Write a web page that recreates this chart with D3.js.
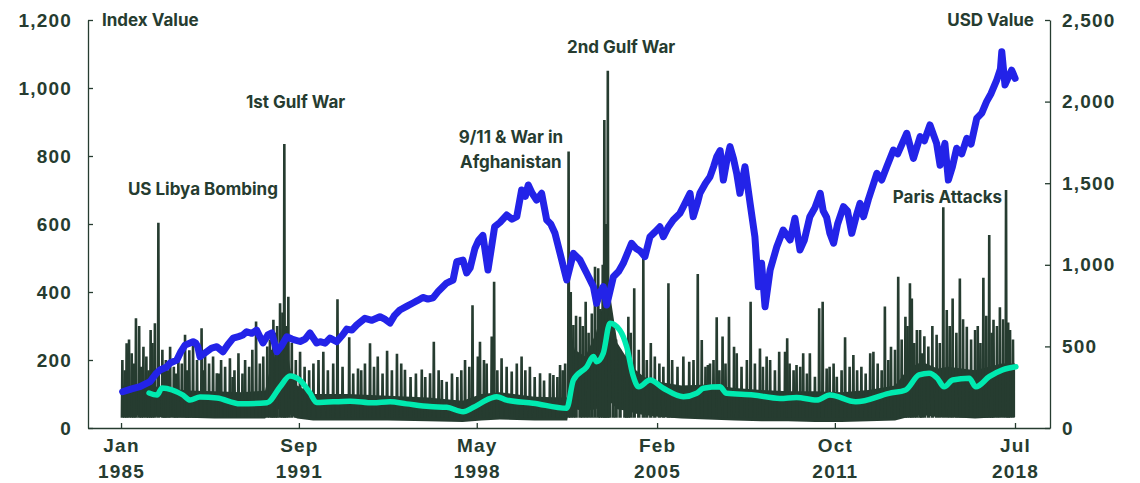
<!DOCTYPE html>
<html>
<head>
<meta charset="utf-8">
<script src="https://cdn.jsdelivr.net/npm/d3@7"></script>
<style>
  body { margin: 0; background: #fff; }
  svg { display: block; font-family: Inter, "DejaVu Sans", sans-serif; }
  .axis text { font-size: 19px; font-weight: 700; fill: #263c30; letter-spacing: 1.2px; }
  .axis path, .axis line { stroke: #263c30; stroke-width: 1.3; }
  .lbl { font-size: 17px; font-weight: 700; fill: #263c30; }
</style>
</head>
<body>
<div id="chart"></div>
<script>
// axis ticks
const xTickDates = ["1985-01-01", "1991-09-01", "1998-05-01", "2005-02-01", "2011-10-01", "2018-07-01"];
const leftTicks = [0, 200, 400, 600, 800, 1000, 1200];
const rightTicks = [0, 500, 1000, 1500, 2000, 2500];

// MSCI World (USD Value, right axis), decimal years
const msciYears = [1985.06, 1985.40, 1985.71, 1986.09, 1986.30, 1986.46, 1986.70, 1986.84, 1987.09, 1987.25,
  1987.40, 1987.70, 1987.80, 1987.88, 1987.96, 1988.21, 1988.40, 1988.59, 1988.82, 1989.00,
  1989.20, 1989.40, 1989.57, 1989.71, 1989.90, 1990.08, 1990.32, 1990.50, 1990.65, 1990.84,
  1991.00, 1991.21, 1991.40, 1991.71, 1991.90, 1992.08, 1992.33, 1992.46, 1992.65, 1992.83,
  1993.08, 1993.30, 1993.46, 1993.65, 1993.83, 1994.14, 1994.40, 1994.70, 1994.90, 1995.08,
  1995.25, 1995.45, 1995.70, 1995.94, 1996.10, 1996.31, 1996.50, 1996.69, 1996.90, 1997.20,
  1997.44, 1997.58, 1997.81, 1997.95, 1998.08, 1998.26, 1998.40, 1998.56, 1998.75, 1999.00,
  1999.20, 1999.45, 1999.65, 1999.83, 2000.01, 2000.15, 2000.26, 2000.40, 2000.57, 2000.76,
  2000.95, 2001.10, 2001.26, 2001.45, 2001.70, 2001.95, 2002.20, 2002.45, 2002.70, 2002.82,
  2002.95, 2003.07, 2003.20, 2003.45, 2003.65, 2003.82, 2004.13, 2004.30, 2004.45, 2004.63,
  2004.82, 2005.00, 2005.19, 2005.32, 2005.50, 2005.69, 2005.94, 2006.07, 2006.32, 2006.44,
  2006.60, 2006.69, 2006.90, 2007.07, 2007.20, 2007.32, 2007.45, 2007.57, 2007.70, 2007.82,
  2007.95, 2008.07, 2008.19, 2008.38, 2008.57, 2008.75, 2008.88, 2009.00, 2009.13, 2009.32,
  2009.57, 2009.81, 2010.07, 2010.25, 2010.44, 2010.60, 2010.81, 2011.00, 2011.20, 2011.31,
  2011.44, 2011.56, 2011.70, 2011.85, 2012.07, 2012.22, 2012.38, 2012.55, 2012.69, 2012.82,
  2013.00, 2013.32, 2013.50, 2013.69, 2013.94, 2014.10, 2014.44, 2014.69, 2014.94, 2015.10,
  2015.31, 2015.56, 2015.69, 2015.87, 2016.00, 2016.15, 2016.31, 2016.50, 2016.69, 2016.85,
  2017.06, 2017.25, 2017.43, 2017.60, 2017.81, 2017.95, 2018.00, 2018.12, 2018.25, 2018.37, 2018.50];
const msciValues = [222, 240, 253, 284, 330, 355, 372, 398, 416, 470,
  508, 529, 520, 498, 437, 467, 490, 498, 467, 510,
  551, 560, 570, 590, 580, 600, 521, 570, 582, 467,
  500, 559, 545, 530, 545, 582, 521, 529, 520, 551,
  529, 570, 606, 600, 631, 672, 660, 682, 665, 643,
  690, 723, 745, 766, 780, 800, 790, 797, 840, 888,
  907, 1019, 1029, 950, 980, 1100, 1150, 1180, 968, 1233,
  1260, 1305, 1280, 1295, 1458, 1420, 1489, 1440, 1397, 1438,
  1274, 1250, 1193, 1070, 907, 1070, 1029, 948, 866, 764,
  830, 866, 754, 927, 960, 1009, 1132, 1100, 1085, 1050,
  1172, 1200, 1233, 1172, 1230, 1274, 1315, 1356, 1438, 1295,
  1380, 1438, 1500, 1540, 1600, 1662, 1700, 1519, 1640, 1724,
  1650, 1560, 1438, 1601, 1377, 1172, 866, 1009, 743, 968,
  1111, 1213, 1152, 1285, 1091, 1150, 1295, 1350, 1438, 1330,
  1290, 1193, 1132, 1250, 1356, 1330, 1193, 1300, 1377, 1295,
  1400, 1560, 1520, 1601, 1703, 1680, 1806, 1652, 1785, 1760,
  1857, 1744, 1610, 1744, 1519, 1600, 1714, 1680, 1775, 1740,
  1897, 1930, 2000, 2050, 2132, 2200, 2306, 2102, 2150, 2193, 2143];

// moving average of the risk index (left axis)
const avgYears = [1986.05, 1986.35, 1986.54, 1987.32, 1987.59, 1987.96, 1988.60, 1989.46, 1990.47, 1990.96,
  1991.33, 1991.71, 1992.08, 1992.33, 1993.58, 1994.44, 1995.08, 1995.70, 1996.57, 1997.20,
  1997.82, 1998.19, 1998.83, 1999.08, 1999.45, 2000.44, 2001.70, 2001.95, 2002.45, 2002.70,
  2002.82, 2003.07, 2003.32, 2003.69, 2003.95, 2004.18, 2004.40, 2004.82, 2005.32, 2006.07,
  2006.57, 2006.82, 2007.44, 2007.69, 2008.69, 2009.69, 2010.31, 2011.06, 2011.56, 2012.53,
  2013.78, 2014.40, 2014.90, 2015.28, 2015.59, 2015.84, 2016.16, 2016.78, 2017.03, 2017.53,
  2018.03, 2018.53];
const avgValues = [103, 97, 118, 97, 82, 91, 88, 71, 74, 121,
  153, 140, 103, 75, 79, 74, 77, 71, 63, 61,
  48, 60, 87, 92, 82, 73, 58, 141, 180, 210,
  195, 220, 308, 288, 238, 156, 121, 141, 117, 92,
  102, 117, 121, 102, 97, 87, 90, 82, 97, 77,
  102, 112, 156, 161, 146, 121, 141, 146, 121, 151,
  171, 180];

// dense part of the daily risk index: low and high envelope (left axis)
const bandYears = [1985.00, 1986.00, 1986.50, 1987.50, 1988.50, 1989.50, 1990.40, 1990.60, 1990.90, 1991.15,
  1991.35, 1991.60, 1992.20, 1993.50, 1995.00, 1996.50, 1997.80, 1998.50, 1999.20, 2000.50,
  2001.60, 2001.72, 2001.80, 2002.00, 2002.40, 2002.80, 2003.10, 2003.35, 2003.60, 2004.00,
  2004.30, 2004.60, 2005.20, 2006.00, 2007.00, 2008.00, 2009.00, 2010.00, 2011.00, 2012.00,
  2013.00, 2014.00, 2014.50, 2015.00, 2015.60, 2016.00, 2017.00, 2018.00, 2018.50];
const bandLow = [40, 35, 32, 30, 28, 28, 28, 45, 55, 55,
  38, 28, 22, 22, 22, 20, 18, 22, 25, 22,
  22, 22, 65, 55, 50, 55, 75, 75, 55, 50,
  42, 38, 32, 28, 25, 22, 20, 20, 18, 18,
  20, 22, 32, 38, 32, 32, 28, 32, 32];
const bandHigh = [125, 125, 120, 110, 108, 105, 110, 180, 240, 280,
  170, 125, 100, 100, 95, 90, 80, 100, 105, 92,
  90, 90, 300, 230, 210, 280, 380, 380, 250, 200,
  170, 150, 135, 125, 128, 118, 112, 108, 108, 105,
  112, 125, 175, 195, 175, 180, 170, 190, 190];

// major spikes of the daily risk index (left axis)
const spikeYears = [1985.21, 1985.40, 1985.56, 1985.84, 1986.11, 1986.27, 1986.40, 1986.84, 1987.40, 1987.56,
  1988.02, 1988.59, 1989.08, 1989.65, 1990.06, 1990.33, 1990.71, 1990.96, 1991.12, 1991.27,
  1991.71, 1992.21, 1992.58, 1993.11, 1993.55, 1993.88, 1994.14, 1994.33, 1994.62, 1994.97,
  1995.34, 1995.64, 1996.27, 1996.58, 1996.72, 1997.02, 1997.20, 1997.89, 1998.17, 1998.37,
  1998.45, 1998.70, 1998.89, 1998.98, 1999.26, 1999.64, 1999.83, 2000.01, 2000.32, 2000.70,
  2001.07, 2001.20, 2001.45, 2001.64, 2001.77, 2001.95, 2002.20, 2002.41, 2002.64, 2002.76,
  2002.88, 2003.11, 2003.24, 2003.44, 2003.88, 2004.01, 2004.23, 2004.57, 2005.17, 2005.32,
  2005.51, 2006.07, 2006.29, 2006.61, 2006.76, 2006.99, 2007.07, 2007.32, 2007.54, 2007.78,
  2007.97, 2008.07, 2008.59, 2008.94, 2009.19, 2009.32, 2009.66, 2009.88, 2009.96, 2010.31,
  2010.56, 2010.81, 2011.00, 2011.16, 2011.29, 2011.44, 2011.82, 2012.13, 2012.44, 2012.74,
  2013.07, 2013.19, 2013.62, 2013.85, 2014.12, 2014.39, 2014.56, 2014.63, 2014.82, 2014.94,
  2015.00, 2015.56, 2015.81, 2015.94, 2016.16, 2016.43, 2016.69, 2017.00, 2017.31, 2017.53,
  2017.69, 2017.93, 2018.16, 2018.31];
const spikeValues = [249, 220, 323, 239, 288, 308, 604, 239, 274, 229,
  293, 161, 205, 200, 313, 210, 318, 367, 835, 386,
  224, 190, 224, 379, 267, 175, 190, 249, 210, 227,
  218, 171, 172, 161, 254, 141, 136, 200, 361, 210,
  254, 190, 269, 430, 205, 166, 190, 210, 180, 161,
  161, 156, 185, 190, 813, 303, 327, 371, 337, 474,
  470, 906, 1051, 200, 151, 327, 411, 499, 190, 180,
  426, 210, 195, 453, 259, 185, 190, 326, 269, 327,
  239, 220, 371, 234, 210, 200, 224, 224, 264, 185,
  220, 220, 151, 352, 371, 175, 151, 267, 215, 180,
  220, 224, 357, 239, 445, 327, 426, 381, 288, 288,
  220, 274, 649, 347, 381, 440, 298, 288, 442, 568,
  318, 355, 700, 288];

// smaller spikes that make up the ragged top of the index
const minorYears = [1985.05, 1985.14, 1985.30, 1985.48, 1985.68, 1985.76, 1985.95, 1986.03, 1986.18, 1986.55,
  1986.62, 1986.68, 1986.76, 1986.98, 1987.06, 1987.15, 1987.28, 1987.48, 1987.70, 1987.85,
  1988.10, 1988.15, 1988.30, 1988.45, 1988.67, 1988.75, 1988.90, 1989.18, 1989.25, 1989.40,
  1989.55, 1989.80, 1989.92, 1990.20, 1990.48, 1990.58, 1990.66, 1990.80, 1990.85, 1991.05,
  1991.18, 1991.40, 1991.55, 1991.88, 1992.05, 1992.40, 1992.75, 1992.95, 1993.30, 1993.70,
  1994.00, 1994.48, 1994.80, 1995.15, 1995.50, 1995.85, 1996.05, 1996.40, 1996.90, 1997.40,
  1997.60, 1997.75, 1998.05, 1998.60, 1999.10, 1999.45, 2000.15, 2000.50, 2000.85, 2001.35,
  2001.55, 2001.85, 2002.05, 2002.30, 2002.52, 2002.96, 2003.05, 2003.17, 2003.30, 2003.55,
  2003.70, 2003.95, 2004.10, 2004.40, 2004.70, 2004.85, 2005.00, 2005.65, 2005.85, 2006.45,
  2006.90, 2007.20, 2007.42, 2007.65, 2008.25, 2008.45, 2008.75, 2009.05, 2009.50, 2010.05,
  2010.20, 2010.45, 2010.70, 2011.55, 2011.70, 2012.00, 2012.30, 2012.58, 2012.90, 2013.35,
  2013.50, 2013.75, 2014.00, 2014.25, 2014.47, 2014.72, 2015.10, 2015.25, 2015.40, 2015.68,
  2016.05, 2016.30, 2016.55, 2016.85, 2017.10, 2017.20, 2017.42, 2017.62, 2017.82, 2018.05,
  2018.24, 2018.42];
const minorValues = [200, 170, 260, 190, 300, 180, 210, 170, 250, 230,
  180, 200, 170, 180, 160, 210, 190, 170, 250, 200,
  170, 230, 190, 210, 160, 200, 180, 150, 170, 220,
  160, 180, 230, 190, 240, 260, 230, 280, 300, 340,
  300, 250, 200, 180, 170, 200, 170, 190, 180, 160,
  170, 180, 160, 170, 190, 150, 160, 150, 170, 160,
  150, 170, 180, 200, 170, 180, 170, 150, 140, 150,
  170, 400, 330, 300, 280, 350, 480, 600, 420, 260,
  230, 250, 280, 230, 200, 250, 210, 200, 180, 200,
  180, 200, 170, 190, 180, 200, 190, 180, 170, 190,
  170, 180, 160, 180, 190, 170, 180, 170, 160, 190,
  170, 200, 230, 260, 300, 250, 270, 240, 300, 250,
  300, 280, 320, 260, 300, 250, 330, 280, 300, 320,
  310, 260];

const annotations = [
  { lines: ["US Libya Bombing"], year: 1990.88, value: 685, anchor: "end" },
  { lines: ["1st Gulf War"], year: 1989.68, value: 941, anchor: "start" },
  { lines: ["9/11 & War in", "Afghanistan"], year: 1999.61, value: 838, anchor: "middle" },
  { lines: ["2nd Gulf War"], year: 2001.71, value: 1103, anchor: "start" },
  { lines: ["Paris Attacks"], year: 2018.01, value: 662, anchor: "end" }
];

function yearToDate(y) {
  const yr = Math.floor(y);
  const start = new Date(yr, 0, 1);
  const end = new Date(yr + 1, 0, 1);
  return new Date(+start + (y - yr) * (end - start));
}

const width = 1140;
const height = 483;
const margin = { top: 20, right: 90, bottom: 55, left: 88 };
const ink = "#263c30";

const svg = d3.select("#chart").append("svg")
  .attr("width", width)
  .attr("height", height);

const x = d3.scaleTime()
  .domain([new Date(1983, 9, 7), new Date(2019, 9, 23)])
  .range([margin.left, width - margin.right]);
const yL = d3.scaleLinear().domain([0, 1200]).range([height - margin.bottom, margin.top]);
const yR = d3.scaleLinear().domain([0, 2500]).range([height - margin.bottom, margin.top]);

// risk index: dense band + spikes
const band = bandYears.map((t, i) => ({ date: yearToDate(t), low: bandLow[i], high: bandHigh[i] }));
svg.append("path")
  .datum(band)
  .attr("fill", ink)
  .attr("d", d3.area()
    .x(d => x(d.date))
    .y0(d => yL(d.low))
    .y1(d => yL(d.high)));

const day = 24 * 3600 * 1000;
const spikeLine = d3.line().x(d => x(d[0])).y(d => yL(d[1]));
const spikes = spikeYears.map((t, i) => ({ date: yearToDate(t), value: spikeValues[i] }))
  .concat(minorYears.map((t, i) => ({ date: yearToDate(t), value: minorValues[i] })));

svg.append("g")
  .selectAll("path")
  .data(spikes)
  .enter()
  .append("path")
  .attr("fill", "none")
  .attr("stroke", ink)
  .attr("stroke-width", 2.6)
  .attr("d", d => spikeLine([
    [new Date(+d.date - 6 * day), 30],
    [d.date, d.value],
    [new Date(+d.date + 6 * day), 30]
  ]));

// moving average
const avg = avgYears.map((t, i) => ({ date: yearToDate(t), value: avgValues[i] }));
svg.append("path")
  .datum(avg)
  .attr("fill", "none")
  .attr("stroke", "#00eab0")
  .attr("stroke-width", 5.5)
  .attr("stroke-linecap", "round")
  .attr("stroke-linejoin", "round")
  .attr("d", d3.line().x(d => x(d.date)).y(d => yL(d.value)).curve(d3.curveMonotoneX));

// MSCI World in USD
const msci = msciYears.map((t, i) => ({ date: yearToDate(t), value: msciValues[i] }));
svg.append("path")
  .datum(msci)
  .attr("fill", "none")
  .attr("stroke", "#2323e8")
  .attr("stroke-width", 7)
  .attr("stroke-linecap", "round")
  .attr("stroke-linejoin", "round")
  .attr("d", d3.line().x(d => x(d.date)).y(d => yR(d.value)));

// axes
svg.append("g")
  .attr("class", "axis")
  .attr("transform", `translate(${margin.left},0)`)
  .call(d3.axisLeft(yL).tickValues(leftTicks).tickSize(-5).tickSizeOuter(0)
    .tickPadding(16).tickFormat(d3.format(",")));

svg.append("g")
  .attr("class", "axis")
  .attr("transform", `translate(${width - margin.right},0)`)
  .call(d3.axisRight(yR).tickValues(rightTicks).tickSize(-5).tickSizeOuter(0)
    .tickPadding(12).tickFormat(d3.format(",")));

const xAxis = svg.append("g")
  .attr("class", "axis")
  .attr("transform", `translate(0,${height - margin.bottom})`)
  .call(d3.axisBottom(x).tickValues(xTickDates.map(d => new Date(d + "T00:00:00")))
    .tickSize(-5).tickSizeOuter(0).tickFormat(""));

xAxis.selectAll(".tick").each(function(d) {
  const g = d3.select(this);
  g.append("text").attr("y", 24).attr("text-anchor", "middle").text(d3.timeFormat("%b")(d));
  g.append("text").attr("y", 50).attr("text-anchor", "middle").text(d3.timeFormat("%Y")(d));
});

// axis titles
svg.append("text").attr("class", "lbl")
  .attr("x", margin.left + 14).attr("y", 26)
  .text("Index Value");
svg.append("text").attr("class", "lbl")
  .attr("x", width - margin.right - 16).attr("y", 26)
  .attr("text-anchor", "end")
  .text("USD Value");

// event labels
annotations.forEach(a => {
  const t = svg.append("text").attr("class", "lbl")
    .attr("text-anchor", a.anchor)
    .attr("x", x(yearToDate(a.year)))
    .attr("y", yL(a.value));
  a.lines.forEach((line, i) => {
    t.append("tspan")
      .attr("x", x(yearToDate(a.year)))
      .attr("dy", i === 0 ? 0 : 25)
      .text(line);
  });
});
</script>
</body>
</html>
